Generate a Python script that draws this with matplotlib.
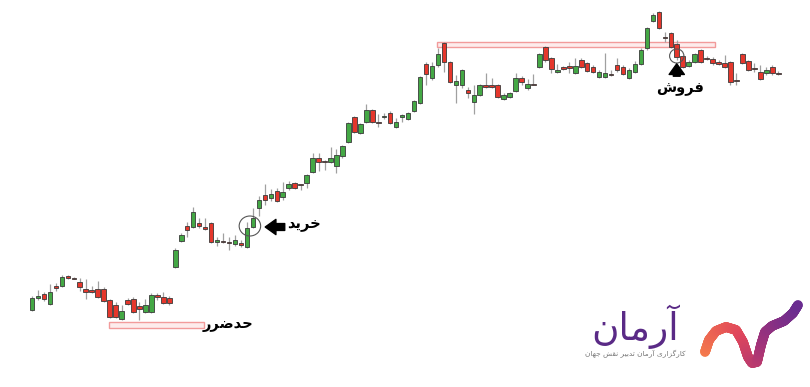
import numpy as np
import matplotlib
matplotlib.use("Agg")
import matplotlib.pyplot as plt
from matplotlib.patches import Rectangle, Ellipse
from matplotlib.collections import LineCollection
import matplotlib.colors as mcolors

# ---------------- data ----------------
opens = [77, 89, 93, 83, 101, 101, 111, 109, 105, 98, 97, 98, 98, 87, 82, 68, 87, 88, 81, 75,
         75, 92, 90, 89, 120, 146, 161, 160, 164, 160, 164, 145, 146, 145, 143, 144, 140, 160, 179, 192,
         189, 196, 190, 199, 204, 203, 204, 215, 229, 226, 225, 221, 231, 245, 270, 254, 265, 277, 265, 270,
         274, 260, 270, 268, 276, 284, 323, 309, 322, 344, 325, 302, 302, 297, 285, 292, 302, 302, 302, 288,
         290, 296, 309, 299, 303, 320, 340, 329, 315, 320, 321, 314, 327, 324, 320, 310, 310, 313, 322, 320,
         309, 315, 323, 339, 366, 375, 350, 354, 343, 331, 321, 325, 337, 329, 328, 325, 324, 325, 307, 333,
         326, 319, 315, 314, 320, 314]
highs = [91, 97, 95, 103, 104, 112, 112, 110, 109, 108, 101, 106, 100, 88, 85, 82, 89, 90, 85, 88,
         94, 94, 95, 91, 139, 154, 165, 180, 169, 169, 165, 150, 154, 150, 152, 147, 165, 179, 191, 203,
         198, 199, 205, 206, 205, 203.5, 213, 234, 234, 227, 240, 238, 242, 265, 271, 264, 283, 278, 273, 274,
         276, 269, 273, 275, 287, 311, 325, 325, 339, 345, 326, 312, 318, 300, 302, 303, 314, 309, 303, 294,
         295, 314, 311, 308, 313, 334, 341, 330, 323, 321, 325, 329, 329, 325, 322, 317, 334, 317, 329, 322,
         319, 326, 339, 360, 374, 376, 355, 355, 347, 332, 327, 334, 338, 331, 330, 327, 332, 326, 314, 334,
         327, 324, 322, 320, 322, 316]
lows = [76, 87, 86, 82, 96, 100, 108, 108, 96, 88, 94.5, 89, 85, 69, 69, 67, 82, 74, 67, 74,
        74, 87, 83, 82, 119, 145, 150, 159, 159, 157, 144, 141, 144, 137, 141, 140, 139, 159, 171, 182,
        186, 185, 187, 197, 198, 197, 199, 214, 216, 217, 224, 214, 229, 244, 254, 253, 264, 264, 260, 268,
        263, 259, 265, 267, 275, 283, 302, 307, 320, 315, 304, 284, 299, 289, 273, 291, 299, 299, 289, 287,
        289, 295, 302, 297, 302, 319, 325, 314, 314, 317, 314, 313, 319, 315, 314, 309, 309, 311, 315, 312,
        308, 314, 322, 337, 365, 358, 345, 339, 327, 319, 320, 324, 324, 327, 322, 322, 319, 302, 302, 323,
        316, 315, 307, 312, 312, 312]
closes = [89, 91, 88, 95, 99, 110, 109, 108.5, 100, 95, 95, 90, 86, 70, 70, 76, 83, 75, 78, 82,
          92, 90, 84, 84, 137, 152, 157, 175, 161, 158, 145, 147, 145, 144, 147, 142, 159, 169, 187, 187,
          193, 186, 195, 203, 199, 202.5, 212, 229, 225, 225.5, 229, 232, 241, 264, 255, 263, 277, 265, 264, 271,
          264, 265, 272, 274, 286, 310, 313, 321, 333, 325, 305, 306, 317, 294, 292, 302, 300, 300, 290, 292,
          294, 309, 305, 303, 302.5, 333, 327, 318, 317, 318.5, 319, 321, 320, 316, 315, 315, 314, 312, 317, 313,
          317, 323, 337, 359, 372, 359, 349.5, 340, 330, 320, 325, 333, 325, 328.5, 324, 323, 320, 305, 306.5, 324,
          317, 318.5, 308, 317, 314, 313.5]

labels = {"buy": "خرید", "sell": "فروش", "stop": "حدضرر"}
brand_name = "آرمان"
brand_sub = "کارگزاری آرمان تدبیر نقش جهان"

# ---------------- simple Persian shaping (presentation forms) ----------------
FORMS = {
    'ا': ('\uFE8D', '\uFE8E', None, None),
    'آ': ('\uFE81', '\uFE82', None, None),
    'ب': ('\uFE8F', '\uFE90', '\uFE91', '\uFE92'),
    'ت': ('\uFE95', '\uFE96', '\uFE97', '\uFE98'),
    'ج': ('\uFE9D', '\uFE9E', '\uFE9F', '\uFEA0'),
    'ح': ('\uFEA1', '\uFEA2', '\uFEA3', '\uFEA4'),
    'خ': ('\uFEA5', '\uFEA6', '\uFEA7', '\uFEA8'),
    'د': ('\uFEA9', '\uFEAA', None, None),
    'ر': ('\uFEAD', '\uFEAE', None, None),
    'ز': ('\uFEAF', '\uFEB0', None, None),
    'ش': ('\uFEB5', '\uFEB6', '\uFEB7', '\uFEB8'),
    'ض': ('\uFEBD', '\uFEBE', '\uFEBF', '\uFEC0'),
    'ف': ('\uFED1', '\uFED2', '\uFED3', '\uFED4'),
    'ق': ('\uFED5', '\uFED6', '\uFED7', '\uFED8'),
    'م': ('\uFEE1', '\uFEE2', '\uFEE3', '\uFEE4'),
    'ن': ('\uFEE5', '\uFEE6', '\uFEE7', '\uFEE8'),
    'ه': ('\uFEE9', '\uFEEA', '\uFEEB', '\uFEEC'),
    'و': ('\uFEED', '\uFEEE', None, None),
    'ی': ('\uFBFC', '\uFBFD', '\uFBFE', '\uFBFF'),
    'ک': ('\uFB8E', '\uFB8F', '\uFB90', '\uFB91'),
    'گ': ('\uFB92', '\uFB93', '\uFB94', '\uFB95'),
}


def shape(text):
    out = []
    n = len(text)
    for i, ch in enumerate(text):
        if ch not in FORMS:
            out.append(ch)
            continue
        f = FORMS[ch]
        prev = text[i - 1] if i > 0 else None
        nxt = text[i + 1] if i < n - 1 else None
        jp = prev in FORMS and FORMS[prev][2] is not None
        jn = f[2] is not None and nxt in FORMS
        if jp and jn:
            out.append(f[3])
        elif jp:
            out.append(f[1])
        elif jn:
            out.append(f[2])
        else:
            out.append(f[0])
    return ''.join(out)[::-1]


plt.rcParams['font.family'] = ['DejaVu Sans']

# ---------------- figure ----------------
W, H = 810, 387
fig = plt.figure(figsize=(W / 100, H / 100), dpi=100)
ax = fig.add_axes([0, 0, 1, 1])
ax.set_axis_off()
step = 5.97
x0px = 32
ax.set_xlim(-x0px / step, (W - x0px) / step)
ax.set_ylim(0, H)

o = np.array(opens, float)
h = np.array(highs, float)
l = np.array(lows, float)
c = np.array(closes, float)
idx = np.arange(len(o))
up = c >= o

ax.vlines(idx, l, h, color='#a0a0a0', lw=0.9, zorder=2)
body_bottom = np.minimum(o, c)
body_h = np.maximum(np.abs(c - o), 0.9)
ax.bar(idx, body_h, bottom=body_bottom, width=0.76,
       color=np.where(up, '#44a845', '#e5372c'), edgecolor='#3a3a3a', linewidth=0.6, zorder=3)

# support / resistance zones
ax.add_patch(Rectangle((12.9, 59), 15.9, 6, facecolor='#fdecec', edgecolor='#f29b9b', lw=1.0, zorder=1))
ax.add_patch(Rectangle((67.8, 340), 46.6, 5.5, facecolor='#fdecec', edgecolor='#f29b9b', lw=1.0, zorder=1))

# buy marker
ax.add_patch(Ellipse((36.5, 161), 3.6, 20, fill=False, edgecolor='#555555', lw=0.8, zorder=4))
ax.annotate('', xy=(38.6, 160), xytext=(42.8, 160),
            arrowprops=dict(arrowstyle='simple,head_width=1.0,head_length=0.7,tail_width=0.45',
                            color='black', mutation_scale=11), zorder=5)
ax.text(45.6, 162, shape(labels['buy']), fontsize=10.5, fontweight='bold', ha='center', va='center')

# sell marker
ax.add_patch(Ellipse((108.0, 331), 2.4, 14, fill=False, edgecolor='#555555', lw=0.8, zorder=4))
ax.annotate('', xy=(108.0, 326), xytext=(108.0, 308),
            arrowprops=dict(arrowstyle='simple,head_width=1.0,head_length=0.7,tail_width=0.45',
                            color='black', mutation_scale=11), zorder=5)
ax.text(108.6, 299, shape(labels['sell']), fontsize=10.5, fontweight='bold', ha='center', va='center')

# stop loss label
ax.text(32.9, 62, shape(labels['stop']), fontsize=10.5, fontweight='bold', ha='center', va='center')

# ---------------- logo ----------------
fig.text(635 / W, 1 - 327 / H, shape(brand_name), fontsize=27, color='#5a2a86',
         ha='center', va='center')
fig.text(635 / W, 1 - 354 / H, shape(brand_sub), fontsize=5.3, color='#777777',
         ha='center', va='center')

sw_x = np.array([705, 709, 716, 726, 736, 743, 748, 752, 757, 761, 765, 772, 784, 793, 798])
sw_y = np.array([352, 340, 331, 327, 330, 342, 357, 363, 362, 345, 332, 326, 321, 313, 305])
t = np.linspace(0, 1, 300)
s = np.concatenate([[0], np.cumsum(np.hypot(np.diff(sw_x), np.diff(sw_y)))])
s /= s[-1]
px = np.interp(t, s, sw_x) / W
py = 1 - np.interp(t, s, sw_y) / H
pts = np.column_stack([px, py]).reshape(-1, 1, 2)
segs = np.concatenate([pts[:-1], pts[1:]], axis=1)
cmap = mcolors.LinearSegmentedColormap.from_list('sw', ['#f47a4c', '#e0465c', '#a33379', '#6a2c90'])
lc = LineCollection(segs, colors=cmap(t[:-1]), linewidths=7, transform=fig.transFigure,
                    capstyle='round', joinstyle='round')
fig.add_artist(lc)

fig.savefig('out.png', dpi=100, facecolor='white')
